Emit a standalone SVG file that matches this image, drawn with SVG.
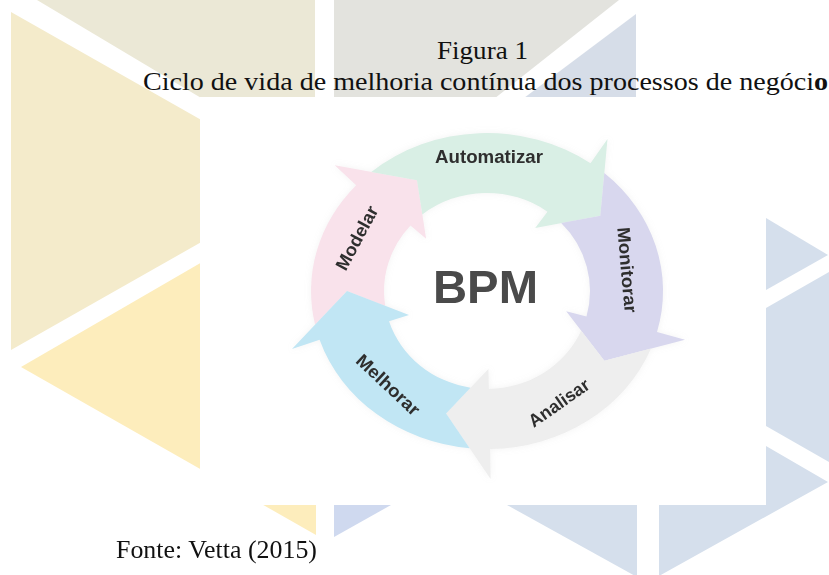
<svg xmlns="http://www.w3.org/2000/svg" width="829" height="575" viewBox="0 0 829 575">
<defs>
  <filter id="soft" x="-10%" y="-10%" width="120%" height="120%">
    <feGaussianBlur in="SourceAlpha" stdDeviation="3"/>
    <feColorMatrix type="matrix" values="0 0 0 0 0.5  0 0 0 0 0.5  0 0 0 0 0.5  0 0 0 0.18 0"/>
    <feMerge><feMergeNode/><feMergeNode in="SourceGraphic"/></feMerge>
  </filter>
</defs>
<style>
.bgb{fill:#d5dfec}
.serif{font-family:"Liberation Serif","Times New Roman",serif;fill:#111}
.lbl{font-family:"Liberation Sans",Arial,sans-serif;font-weight:bold;font-size:18px;fill:#2f2f2f;text-anchor:middle}
.seg{stroke:none}
</style>
<g id="background">
  <polygon points="37,0 315,0 315,166" fill="#ebe8d6"/>
  <polygon points="11,12 309,181 11,350" fill="#f4ebcb"/>
  <polygon points="21,367 316,196 316,535" fill="#fdedbc"/>
  <polygon points="334,0 619,0 480,110 334,110" fill="#e3e3de"/>
  <polygon points="636,14 636,110 508,110" fill="#d6dde8"/>
  <polygon class="bgb" points="766,218 828,255 766,290"/>
  <polygon class="bgb" points="766,308 829,272 829,462 766,426"/>
  <polygon class="bgb" points="766,446 828,482 659,576 659,505 766,505"/>
  <polygon class="bgb" points="507,505 637,505 637,577"/>
  <polygon points="334,505 391,505 334,537" fill="#cfd9ef"/>
</g>
<rect x="200" y="97" width="566" height="408" fill="#ffffff"/>
<g id="title">
  <text class="serif" x="482.5" y="59" font-size="25.5" text-anchor="middle" textLength="91" lengthAdjust="spacingAndGlyphs">Figura 1</text>
  <text class="serif" x="143" y="90" font-size="25.5" textLength="685" lengthAdjust="spacingAndGlyphs">Ciclo de vida de melhoria contínua dos processos de negóci<tspan font-weight="bold">o</tspan></text>
</g>
<g id="cycle">
  <g id="ring" filter="url(#soft)">
  <g id="node-modelar">
    <path class="seg" fill="#f9e2eb" d="M315.1,324.7 A176,158 0 0 1 356.2,185.3 L334.7,165.2 L417,180.2 L426.1,238.8 L410.5,225.4 A103,98 0 0 0 385.2,305.9 L347,291 Z"/>
    <text class="lbl" transform="translate(357,238) rotate(-62)" x="0" y="6" textLength="70" lengthAdjust="spacingAndGlyphs">Modelar</text>
  </g>
  <g id="node-automatizar">
    <path class="seg" fill="#d9efe5" d="M371.3,171.9 A176,158 0 0 1 590.5,163.2 L607.5,138.9 L600.3,215.8 L535.2,227.9 L547.5,211.7 A103,98 0 0 0 422.3,214.5 L417,180.2 Z"/>
    <text class="lbl" x="489" y="163" textLength="108" lengthAdjust="spacingAndGlyphs">Automatizar</text>
  </g>
  <g id="node-monitorar">
    <path class="seg" fill="#d8d7ee" d="M604.3,173.1 A176,158 0 0 1 657,331.9 L685,339.7 L604.4,360.7 L566.2,311.2 L586.5,316.4 A103,98 0 0 0 561.2,223.1 L600.3,215.8 Z"/>
    <text class="lbl" transform="translate(627,270) rotate(85)" x="0" y="6" textLength="86" lengthAdjust="spacingAndGlyphs">Monitorar</text>
  </g>
  <g id="node-analisar">
    <path class="seg" fill="#eeeeee" d="M651,348.6 A176,158 0 0 1 490.1,449 L490.6,479 L446.1,413.4 L488.4,369 L488.8,389 A103,98 0 0 0 581.2,330.7 L604.4,360.7 Z"/>
    <text class="lbl" transform="translate(559,403) rotate(-35)" x="0" y="6" textLength="70" lengthAdjust="spacingAndGlyphs">Analisar</text>
  </g>
  <g id="node-melhorar">
    <path class="seg" fill="#c1e6f4" d="M469.7,448.2 A176,158 0 0 1 319.6,339.8 L292,349.1 L347,291 L409,315.1 L389,321.3 A103,98 0 0 0 470.5,387.7 L446.1,413.4 Z"/>
    <text class="lbl" transform="translate(388,385) rotate(43)" x="0" y="6" textLength="80" lengthAdjust="spacingAndGlyphs">Melhorar</text>
  </g>
  </g>
  <g id="node-bpm">
    <text x="485.5" y="303" font-family="Liberation Sans,Arial,sans-serif" font-weight="bold" font-size="46" fill="#4a4a4a" text-anchor="middle" textLength="105" lengthAdjust="spacingAndGlyphs">BPM</text>
  </g>
</g>
<g id="connectors"></g>
<text class="serif" x="116" y="558" font-size="25.5" textLength="201" lengthAdjust="spacingAndGlyphs">Fonte: Vetta (2015)</text>
</svg>
